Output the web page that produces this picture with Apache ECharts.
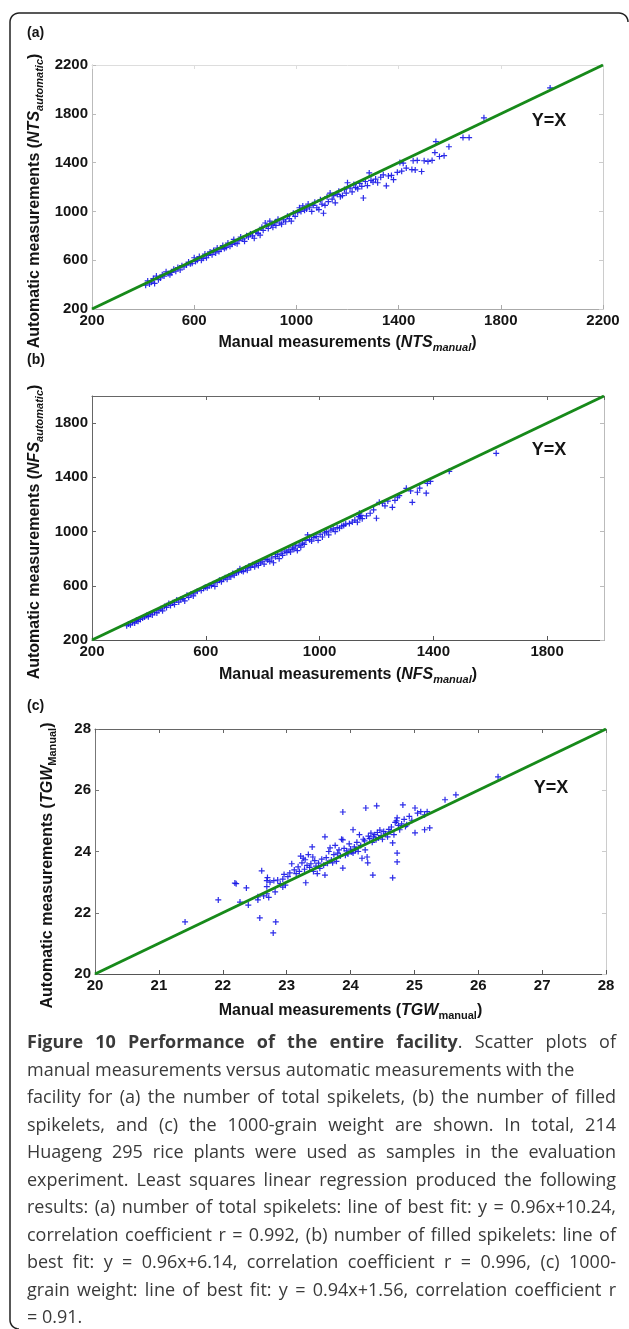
<!DOCTYPE html>
<html>
<head>
<meta charset="utf-8">
<title>Figure 10 Performance of the entire facility</title>
<script src="https://cdn.jsdelivr.net/npm/echarts@6/dist/echarts.min.js"></script>
<style>
    html, body {margin: 0; padding: 0; background: #fff;}
    #chart {width: 629px; height: 1329px;}
</style>
</head>
<body>
<div id="chart"></div>
<script>
// (a) number of total spikelets, [manual, automatic]
const ntsPoints = [
    [410,395],[418,430],[425,405],[432,420],[440,450],[445,410],[452,470],[460,440],[468,455],[475,480],
    [482,470],[490,505],[498,490],[505,480],[512,500],[520,525],[528,510],[536,540],[545,520],[552,555],
    [560,545],[570,560],[578,585],[585,570],[592,575],[600,620],[605,590],[612,600],[620,630],[628,600],
    [635,615],[642,650],[648,620],[655,640],[662,668],[670,645],[676,680],[684,660],[690,700],[697,672],
    [705,690],[712,720],[718,695],[725,705],[732,740],[740,715],[748,730],[755,770],[760,740],[768,735],
    [775,760],[782,790],[790,775],[797,755],[805,800],[812,790],[820,815],[828,800],[835,780],[842,830],
    [850,820],[858,805],[865,870],[870,845],[878,905],[884,880],[890,860],[896,920],[902,890],[908,870],
    [915,910],[920,885],[928,935],[935,905],[942,895],[950,930],[958,915],[965,960],[972,940],[980,920],
    [988,985],[995,960],[1005,990],[1012,1030],[1018,1000],[1025,1045],[1032,1010],[1040,1020],[1046,1060],[1052,1035],
    [1060,1000],[1066,1050],[1072,1075],[1080,1030],[1088,1015],[1094,1095],[1100,1060],[1106,985],[1112,1050],[1120,1120],
    [1125,1080],[1132,1150],[1140,1100],[1146,1130],[1152,1070],[1160,1140],[1166,1165],[1172,1120],[1180,1130],[1188,1180],
    [1195,1150],[1200,1235],[1210,1190],[1218,1160],[1225,1220],[1232,1195],[1240,1185],[1248,1230],[1256,1205],[1262,1110],
    [1270,1245],[1278,1212],[1285,1315],[1292,1255],[1300,1240],[1310,1265],[1318,1235],[1330,1280],[1340,1300],[1352,1210],
    [1360,1290],[1372,1295],[1380,1260],[1395,1320],[1405,1400],[1412,1330],[1418,1395],[1430,1355],[1452,1343],[1457,1415],
    [1465,1340],[1473,1418],[1490,1327],[1500,1415],[1515,1410],[1531,1418],[1542,1482],[1546,1572],[1560,1450],[1578,1457],
    [1597,1530],[1652,1605],[1676,1605],[1734,1767],[1993,2012]
];

// (b) number of filled spikelets, [manual, automatic]
const nfsPoints = [
    [322,305],[328,318],[335,312],[342,330],[350,325],[356,345],[362,338],[370,352],[378,362],[385,370],
    [392,380],[398,372],[405,392],[412,385],[420,405],[428,400],[435,420],[442,430],[448,415],[455,448],
    [462,440],[470,470],[476,455],[484,475],[490,462],[498,495],[505,480],[512,500],[520,505],[526,488],
    [534,530],[540,515],[548,540],[556,525],[562,548],[570,560],[584,565],[592,580],[598,590],[605,585],
    [612,600],[620,602],[626,615],[632,595],[640,625],[648,640],[655,630],[662,650],[668,660],[675,648],
    [682,672],[688,665],[695,690],[700,678],[708,695],[715,700],[720,725],[726,710],[732,705],[740,730],
    [746,715],[752,745],[758,735],[765,755],[772,740],[778,765],[785,750],[792,770],[798,782],[805,760],
    [812,795],[818,790],[825,780],[832,805],[838,770],[845,815],[852,830],[858,800],[865,840],[870,825],
    [878,855],[885,845],[892,865],[898,850],[905,880],[910,870],[916,895],[922,860],[928,900],[934,885],
    [940,915],[946,905],[952,935],[958,975],[965,940],[972,930],[980,955],[988,965],[995,935],[1002,980],
    [1010,960],[1018,990],[1025,1000],[1032,975],[1040,1010],[1048,1020],[1055,1000],[1062,1030],[1070,1025],[1078,1040],
    [1085,1045],[1092,1055],[1105,1060],[1115,1070],[1124,1085],[1133,1069],[1138,1110],[1140,1135],[1142,1100],[1145,1120],
    [1150,1095],[1165,1115],[1178,1135],[1190,1160],[1200,1098],[1210,1216],[1221,1209],[1230,1190],[1240,1225],[1256,1179],
    [1265,1230],[1274,1253],[1280,1265],[1305,1319],[1320,1300],[1326,1216],[1344,1290],[1352,1320],[1375,1283],[1379,1356],
    [1390,1370],[1456,1444],[1621,1577]
];

// (c) 1000-grain weight, [manual, automatic]
const tgwPoints = [
    [21.41,21.70],[21.93,22.42],[22.19,22.97],[22.21,22.95],[22.27,22.35],[22.37,22.81],[22.40,22.25],[22.55,22.42],[22.55,22.52],[22.58,21.83],
    [22.61,23.37],[22.64,22.55],[22.69,22.62],[22.69,22.85],[22.69,23.05],[22.70,23.15],[22.72,22.50],[22.74,23.00],[22.79,21.34],[22.80,23.05],
    [22.82,22.68],[22.83,21.70],[22.86,23.07],[22.90,22.95],[22.94,22.84],[22.94,23.10],[22.96,23.25],[22.98,22.90],[23.02,23.18],[23.05,23.30],
    [23.08,23.60],[23.12,23.40],[23.15,23.28],[23.18,23.50],[23.20,23.35],[23.22,23.85],[23.24,23.63],[23.26,23.78],[23.28,23.42],[23.29,23.73],
    [23.30,22.98],[23.32,23.55],[23.34,23.90],[23.36,23.48],[23.38,23.60],[23.40,24.15],[23.41,23.82],[23.42,23.35],[23.44,23.70],[23.46,23.52],
    [23.48,23.28],[23.50,23.62],[23.52,23.45],[23.55,23.75],[23.58,23.55],[23.60,23.23],[23.60,24.48],[23.62,23.80],[23.64,23.62],[23.66,24.00],
    [23.68,24.12],[23.70,23.72],[23.72,23.63],[23.74,23.90],[23.76,24.20],[23.78,23.68],[23.80,23.95],[23.82,24.05],[23.84,23.85],[23.86,24.40],
    [23.88,23.46],[23.88,24.38],[23.88,25.29],[23.90,24.10],[23.92,23.88],[23.94,24.02],[23.96,23.92],[23.98,24.25],[24.00,24.08],[24.02,23.98],
    [24.04,23.95],[24.04,24.71],[24.06,24.15],[24.08,24.05],[24.10,24.30],[24.12,24.00],[24.14,24.55],[24.16,24.20],[24.18,23.78],[24.20,24.40],
    [24.22,24.35],[24.23,24.05],[24.24,25.42],[24.26,23.82],[24.27,23.63],[24.28,24.50],[24.30,24.42],[24.32,24.60],[24.34,24.30],[24.35,23.23],
    [24.36,24.48],[24.38,24.55],[24.40,24.38],[24.41,25.49],[24.42,24.62],[24.44,24.45],[24.46,24.70],[24.48,24.52],[24.50,24.40],[24.52,24.65],
    [24.55,24.58],[24.58,24.48],[24.60,24.72],[24.62,24.64],[24.64,24.80],[24.66,24.28],[24.66,23.14],[24.68,24.55],[24.70,24.95],[24.72,25.00],
    [24.73,23.95],[24.73,23.66],[24.73,25.10],[24.75,24.85],[24.77,24.71],[24.80,24.90],[24.82,25.52],[24.84,25.05],[24.86,24.82],[24.88,24.87],
    [24.92,25.15],[24.96,25.02],[25.01,24.61],[25.01,25.42],[25.05,25.25],[25.10,25.30],[25.16,24.71],[25.16,25.20],[25.20,25.30],[25.24,24.77],
    [25.48,25.69],[25.65,25.85],[26.31,26.44]
];

// axis [min, max, interval]
const ntsAxis = [200, 2200, 400];
const nfsAxis = [200, 2000, 400];
const tgwXAxis = [20, 28, 1];
const tgwYAxis = [20, 28, 2];

const panelLetters = ['(a)', '(b)', '(c)'];

const captionLines = [
    '{b|Figure} {b|10} {b|Performance} {b|of} {b|the} {b|entire} {b|facility}. Scatter plots of',
    'manual measurements versus automatic measurements with the',
    'facility for (a) the number of total spikelets, (b) the number of filled',
    'spikelets, and (c) the 1000-grain weight are shown. In total, 214',
    'Huageng 295 rice plants were used as samples in the evaluation',
    'experiment. Least squares linear regression produced the following',
    'results: (a) number of total spikelets: line of best fit: y = 0.96x+10.24,',
    'correlation coefficient r = 0.992, (b) number of filled spikelets: line of',
    'best fit: y = 0.96x+6.14, correlation coefficient r = 0.996, (c) 1000-',
    'grain weight: line of best fit: y = 0.94x+1.56, correlation coefficient r',
    '= 0.91.'
];

const labelFont = '"Liberation Sans", Arial, Helvetica, sans-serif';
const captionFont = '"Open Sans", "DejaVu Sans", sans-serif';
const ink = '#141414';
const plus = 'path://M-0.2,-1H0.2V-0.2H1V0.2H0.2V1H-0.2V0.2H-1V-0.2H-0.2Z';

const nameRich = {
    n: {fontFamily: labelFont, fontSize: 16, fontWeight: 'bold', color: ink, lineHeight: 20},
    i: {fontFamily: labelFont, fontSize: 16, fontWeight: 'bold', fontStyle: 'italic', color: ink, lineHeight: 20},
    s: {fontFamily: labelFont, fontSize: 11, fontWeight: 'bold', fontStyle: 'italic', color: ink, lineHeight: 10, verticalAlign: 'bottom'},
    u: {fontFamily: labelFont, fontSize: 11, fontWeight: 'bold', color: ink, lineHeight: 10, verticalAlign: 'bottom'}
};

const panels = [
    {
        grid: {left: 92, top: 65, width: 511, height: 244},
        x: ntsAxis, y: ntsAxis, points: ntsPoints,
        xName: '{n|Manual measurements (}{i|NTS}{s|manual}{n|)}',
        yName: '{n|Automatic measurements (}{i|NTS}{s|automatic}{n|)}',
        xGap: 24, yGap: 47,
        colors: {bottom: '#aaa', left: '#bbb', top: '#ddd', right: '#ccc'},
        hideMax: false, yx: [549, 121], letter: 33
    },
    {
        grid: {left: 92, top: 396, width: 512, height: 244},
        x: nfsAxis, y: nfsAxis, points: nfsPoints,
        xName: '{n|Manual measurements (}{i|NFS}{s|manual}{n|)}',
        yName: '{n|Automatic measurements (}{i|NFS}{s|automatic}{n|)}',
        xGap: 25, yGap: 47,
        colors: {bottom: '#555', left: '#666', top: '#666', right: '#bbb'},
        hideMax: true, yx: [549, 450], letter: 360
    },
    {
        grid: {left: 95, top: 729, width: 511, height: 245},
        x: tgwXAxis, y: tgwYAxis, points: tgwPoints,
        xName: '{n|Manual measurements (}{i|TGW}{u|manual}{n|)}',
        yName: '{n|Automatic measurements (}{i|TGW}{u|Manual}{n|)}',
        xGap: 27, yGap: 37,
        colors: {bottom: '#555', left: '#777', top: '#666', right: '#ccc'},
        hideMax: false, yx: [551, 788], letter: 706
    }
];

function axis(range, color, extra) {
    return Object.assign({
        type: 'value',
        min: range[0],
        max: range[1],
        interval: range[2],
        splitLine: {show: false},
        axisLine: {onZero: false, lineStyle: {color: color, width: 1}},
        axisTick: {inside: true, length: 4, lineStyle: {color: color}},
        axisLabel: {show: false}
    }, extra);
}

function tickLabel(hideMax) {
    return {
        show: true,
        margin: 4,
        fontFamily: labelFont,
        fontSize: 15,
        fontWeight: 'bold',
        color: ink,
        showMaxLabel: !hideMax,
        formatter: v => String(v)
    };
}

let grids = [], xAxes = [], yAxes = [], series = [], graphics = [];

panels.forEach((p, k) => {
    grids.push(Object.assign({outerBoundsMode: 'none', containLabel: false}, p.grid));
    xAxes.push(axis(p.x, p.colors.bottom, {
        gridIndex: k, position: 'bottom',
        axisLabel: tickLabel(p.hideMax),
        name: p.xName, nameLocation: 'middle', nameGap: p.xGap, nameMoveOverlap: false,
        nameTextStyle: {rich: nameRich}
    }));
    xAxes.push(axis(p.x, p.colors.top, {gridIndex: k, position: 'top'}));
    yAxes.push(axis(p.y, p.colors.left, {
        gridIndex: k, position: 'left',
        axisLabel: tickLabel(p.hideMax),
        name: p.yName, nameLocation: 'middle', nameGap: p.yGap, nameMoveOverlap: false,
        nameTextStyle: {rich: nameRich, padding: [0, 28, 0, 0]}
    }));
    yAxes.push(axis(p.y, p.colors.right, {gridIndex: k, position: 'right'}));

    series.push({
        type: 'scatter',
        xAxisIndex: 2 * k, yAxisIndex: 2 * k,
        data: p.points,
        symbol: plus,
        symbolSize: 6,
        itemStyle: {color: '#1414e6', opacity: 0.9},
        silent: true, z: 2
    });
    // Y=X reference line
    series.push({
        type: 'line',
        xAxisIndex: 2 * k, yAxisIndex: 2 * k,
        data: [[p.x[0], p.x[0]], [p.x[1], p.x[1]]],
        symbol: 'none',
        lineStyle: {color: '#178a1a', width: 3},
        silent: true, z: 3
    });

    graphics.push({
        type: 'text', x: 27, y: p.letter,
        style: {text: panelLetters[k], font: 'bold 14px ' + labelFont, fill: ink, verticalAlign: 'middle'}
    });
    graphics.push({
        type: 'text', x: p.yx[0], y: p.yx[1],
        style: {text: 'Y=X', font: 'bold 18px ' + labelFont, fill: ink, align: 'center', verticalAlign: 'middle'}
    });
});

// frame round the figure: rounded top corners, open at the right and bottom
function corner(cx, cy, r, a0, a1) {
    let pts = [];
    for (let s = 0; s <= 8; s++) {
        const a = a0 + (a1 - a0) * s / 8;
        pts.push([cx + r * Math.cos(a), cy + r * Math.sin(a)]);
    }
    return pts;
}
const framePoints = [].concat(
    corner(619, 22, 9, 0, -Math.PI / 2),
    corner(19, 22, 9, -Math.PI / 2, -Math.PI),
    corner(19, 1320, 9, Math.PI, Math.PI / 2)
);
graphics.push({
    type: 'polyline',
    shape: {points: framePoints},
    style: {fill: null, stroke: '#222', lineWidth: 1.5}
});

// caption, justified word by word
const measure = document.createElement('canvas').getContext('2d');
function wordWidth(w) {
    let width = 0;
    w.split(/(\{b\|[^}]*\})/).forEach(part => {
        if (!part) return;
        const m = part.match(/^\{b\|([^}]*)\}$/);
        measure.font = (m ? 'bold ' : '') + '18px ' + captionFont;
        width += measure.measureText(m ? m[1] : part).width;
    });
    return width;
}
const captionLeft = 27, captionRight = 616;
captionLines.forEach((line, i) => {
    const words = line.split(' ');
    const widths = words.map(wordWidth);
    const total = widths.reduce((a, b) => a + b, 0);
    measure.font = '18px ' + captionFont;
    let gap = measure.measureText(' ').width;
    if (i !== 1 && i !== captionLines.length - 1) {
        gap = (captionRight - captionLeft - total) / (words.length - 1);
    }
    let x = captionLeft;
    words.forEach((w, j) => {
        graphics.push({
            type: 'text', x: x, y: 1043 + 27.5 * i,
            style: {
                text: w, fontFamily: captionFont, fontSize: 18, fill: '#3a3a3a',
                verticalAlign: 'middle',
                rich: {b: {fontFamily: captionFont, fontSize: 18, fontWeight: 'bold', color: '#2a2a2a'}}
            }
        });
        x += widths[j] + gap;
    });
});

let myChart = echarts.init(document.getElementById('chart'), null, {renderer: 'canvas'});
let option = {
    backgroundColor: '#fff',
    animation: false,
    grid: grids,
    xAxis: xAxes,
    yAxis: yAxes,
    series: series,
    graphic: graphics
};
myChart.setOption(option, true);
</script>
</body>
</html>
